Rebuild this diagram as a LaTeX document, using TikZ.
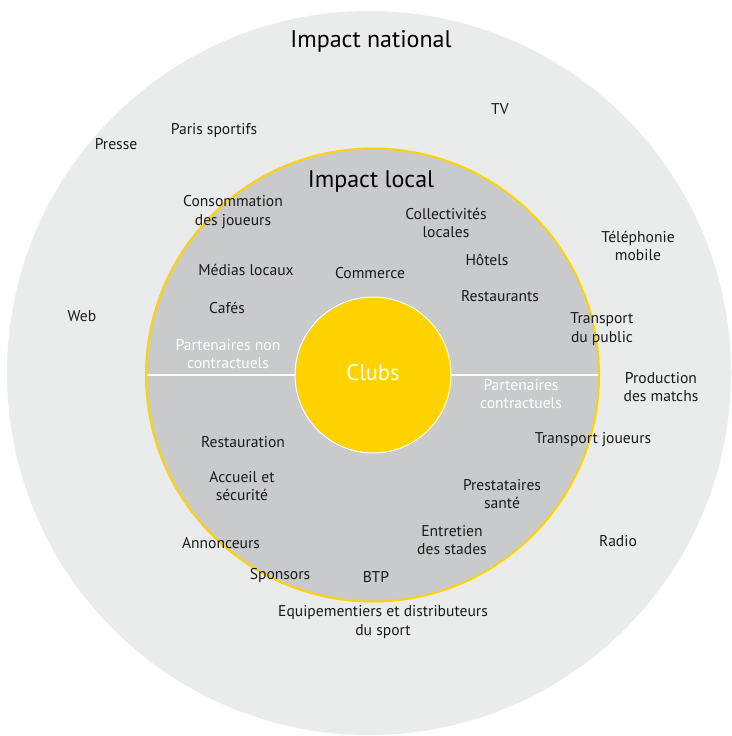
\documentclass[tikz,border=0pt]{standalone}
\usepackage{fontspec}
\setmainfont{PT Sans}
\definecolor{ringnat}{HTML}{EAEBEB}
\definecolor{ringloc}{HTML}{C9CACB}
\definecolor{clubyel}{HTML}{FFD200}
\definecolor{txt}{HTML}{1A1A1A}
\begin{document}
\begin{tikzpicture}[x=1pt,y=-1pt,
  disc/.style={circle, inner sep=0pt, outer sep=0pt},
  lbl/.style={font=\fontsize{15.6}{18.5}\selectfont, text=txt, align=center, inner sep=0pt},
  wlbl/.style={lbl, text=white},
  title/.style={font=\fontsize{24}{28}\selectfont, text=black, inner sep=0pt},
  divider/.style={draw=white, line width=2pt}]
\useasboundingbox (0,0) rectangle (731,736);
\begin{scope}
\clip (0,0) rectangle (731,736);
\node[disc, fill=ringnat, minimum size=724pt] (national) at (369,373) {};
\end{scope}
\node[disc, fill=ringloc, minimum size=453pt] (local) at (372.5,375) {};
\draw[divider] (local.west) -- (373,375) coordinate (mid);
\draw[divider] (mid) -- (local.east);
\draw[clubyel, line width=2pt] (local.center) circle[radius=226.5pt];
\node[disc, fill=clubyel, draw=white, line width=1pt, minimum size=156pt] (clubs) at (373,375) {};
\node[font=\fontsize{22.5}{26}\selectfont, text=white, inner sep=0pt] (clubslbl) at (373,373) {Clubs};

% national ring
\node[title] (tnat) at (371,41) {Impact national};
\node[lbl] (tv) at (500,109) {TV};
\node[lbl] (presse) at (116,144) {Presse};
\node[lbl] (paris) at (214,131) {Paris sportifs};
\node[lbl] (tel) at (638,246) {Téléphonie\\mobile};
\node[lbl] (web) at (82,316) {Web};
\node[lbl] (prod) at (661,387) {Production\\des matchs};
\node[lbl] (tjoueurs) at (593,440) {Transport joueurs};
\node[lbl] (radio) at (618,541) {Radio};
\node[lbl] (annonceurs) at (221,543) {Annonceurs};
\node[lbl] (sponsors) at (280,575) {Sponsors};
\node[lbl] (equip) at (383,622) {Equipementiers et distributeurs\\du sport};

% local ring
\node[title] (tloc) at (371,181) {Impact local};
\node[lbl] (conso) at (233,212) {Consommation\\des joueurs};
\node[lbl] (coll) at (446,223) {Collectivités\\locales};
\node[lbl] (medias) at (246,270) {Médias locaux};
\node[lbl] (commerce) at (370,273) {Commerce};
\node[lbl] (hotels) at (487,260) {Hôtels};
\node[lbl] (resto) at (500,296) {Restaurants};
\node[lbl] (cafes) at (227,308) {Cafés};
\node[lbl] (tpublic) at (602,329) {Transport\\du public};
\node[wlbl] (pnc) at (228,354) {Partenaires non\\contractuels};
\node[wlbl] (pc) at (521,394) {Partenaires\\contractuels};
\node[lbl] (restauration) at (243,442) {Restauration};
\node[lbl] (accueil) at (242,486) {Accueil et\\sécurité};
\node[lbl] (presta) at (502,494) {Prestataires\\santé};
\node[lbl] (entretien) at (452,540) {Entretien\\des stades};
\node[lbl] (btp) at (376,577) {BTP};
\end{tikzpicture}
\end{document}
